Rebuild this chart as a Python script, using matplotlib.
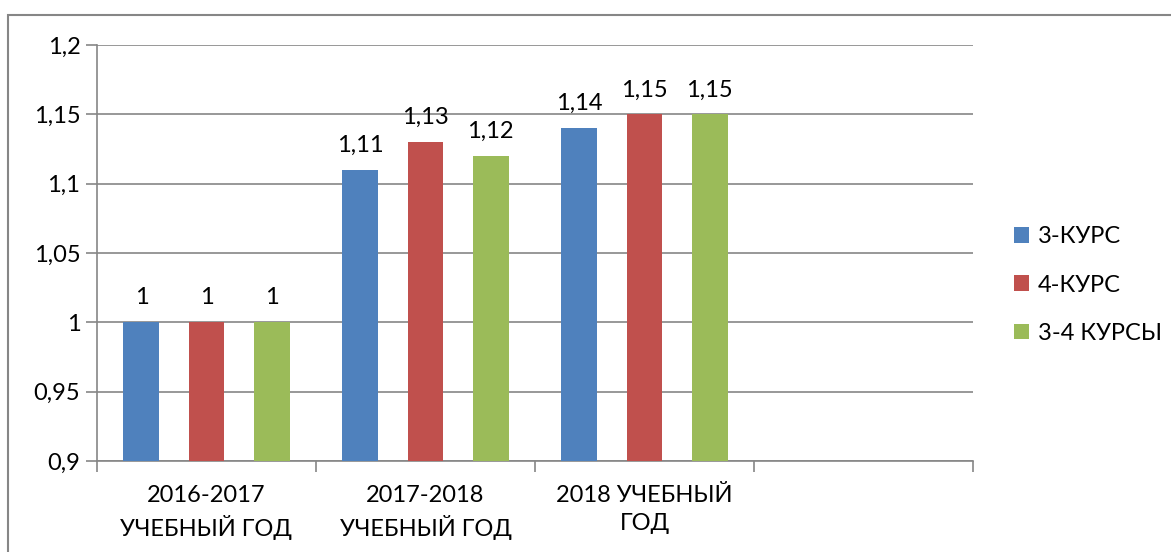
import matplotlib
matplotlib.use("Agg")
import matplotlib.pyplot as plt
from matplotlib.patches import Rectangle
import numpy as np

plt.rcParams['font.family'] = ['Lato', 'DejaVu Sans']

categories = ["2016-2017\nУЧЕБНЫЙ ГОД", "2017-2018\nУЧЕБНЫЙ ГОД", "2018 УЧЕБНЫЙ\nГОД", ""]
series_names = ["3-КУРС", "4-КУРС", "3-4 КУРСЫ"]
s3 = [1.00, 1.11, 1.14, np.nan]
s4 = [1.00, 1.13, 1.15, np.nan]
s34 = [1.00, 1.12, 1.15, np.nan]
label_texts = [["1", "1,11", "1,14"], ["1", "1,13", "1,15"], ["1", "1,12", "1,15"]]
colors = ["#4F81BD", "#C0504D", "#9BBB59"]
yticks = [0.9, 0.95, 1.0, 1.05, 1.1, 1.15, 1.2]
ytick_labels = ["0,9", "0,95", "1", "1,05", "1,1", "1,15", "1,2"]

W, H = 1171, 552
fig = plt.figure(figsize=(W / 100, H / 100), dpi=100)
ax = fig.add_axes([97 / W, (H - 461) / H, (973 - 97) / W, (461 - 45) / H])

grey = "#868686"
fig.patches.append(Rectangle((8 / W, -0.1), 1.2, (H - 15) / H + 0.1, transform=fig.transFigure,
                             fill=False, edgecolor=grey, linewidth=1.5))

FS = 17
x = np.arange(len(categories))
bw = 0.164
off = 0.297
for i, (vals, c) in enumerate(zip([s3, s4, s34], colors)):
    ax.bar(x + (i - 1) * off, vals, width=bw, color=c, label=series_names[i], zorder=3)
    for j, t in enumerate(label_texts[i]):
        ax.annotate(t, (x[j] + (i - 1) * off, vals[j]), xytext=(0, 10), textcoords='offset points',
                    ha='center', va='bottom', fontsize=FS, zorder=4)

ax.set_ylim(0.9, 1.2)
ax.set_xlim(-0.5, len(categories) - 0.5)
ax.set_yticks(yticks)
ax.set_yticklabels(ytick_labels, fontsize=FS)
ax.yaxis.grid(True, color=grey, linewidth=1.2, zorder=0)
ax.set_axisbelow(True)

ax.set_xticks(np.arange(len(categories) + 1) - 0.5)
ax.set_xticklabels([])
ax.set_xticks(x, minor=True)
ax.set_xticklabels(categories, minor=True, fontsize=FS, linespacing=1.45)
ax.tick_params(axis='x', which='minor', length=0, pad=17)
ax.tick_params(axis='x', which='major', length=8, color=grey, width=1.2, direction='out')
ax.tick_params(axis='y', length=8, color=grey, width=1.2, pad=4)

for s in ['top', 'right']:
    ax.spines[s].set_visible(False)
for s in ['left', 'bottom']:
    ax.spines[s].set_color(grey)
    ax.spines[s].set_linewidth(1.2)

leg = ax.legend(loc='center left', bbox_to_anchor=(1.0225, 0.423), frameon=False, fontsize=FS,
                handlelength=0.65, handleheight=0.65, handletextpad=0.35, labelspacing=1.15)

fig.savefig("out.png", dpi=100)
